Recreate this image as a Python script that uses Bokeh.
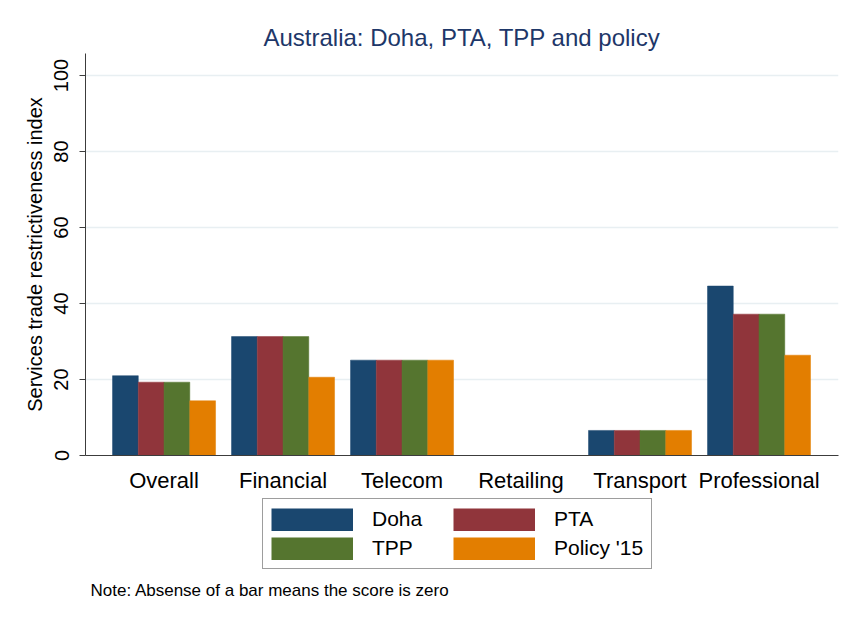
from bokeh.plotting import figure
from bokeh.models import ColumnDataSource, FixedTicker, Range1d, Legend, LegendItem, Label
from bokeh.layouts import column
from bokeh.transform import dodge
from bokeh.embed import file_html
from bokeh.resources import INLINE

categories = ["Overall", "Financial", "Telecom", "Retailing", "Transport", "Professional"]
doha = [21.0, 31.3, 25.1, 0.0, 6.6, 44.6]
pta = [19.3, 31.3, 25.1, 0.0, 6.6, 37.2]
tpp = [19.3, 31.3, 25.1, 0.0, 6.6, 37.2]
policy15 = [14.4, 20.6, 25.1, 0.0, 6.6, 26.4]
series_names = ["Doha", "PTA", "TPP", "Policy '15"]
colors = ["#1a476f", "#90353b", "#55752f", "#e37e00"]
y_ticks = [0, 20, 40, 60, 80, 100]
note_text = "Note: Absense of a bar means the score is zero"

FONT = "Liberation Sans"
W, H = 843, 607
H1 = 495
H2 = H - H1
LEFT = 85
AX = "#3c3c3c"

src = ColumnDataSource(dict(
    x=list(range(len(categories))),
    doha=doha, pta=pta, tpp=tpp, policy15=policy15,
))

p = figure(width=W, height=H1, output_backend="svg", toolbar_location=None,
           x_range=Range1d(-0.66, 5.668), y_range=Range1d(0, 105.8),
           min_border_left=LEFT, min_border_right=5, min_border_top=53,
           min_border_bottom=H1 - 457, background_fill_color="white",
           border_fill_color="white")
p.outline_line_color = None

bw = 0.2164
fields = ["doha", "pta", "tpp", "policy15"]
offsets = [-1.5, -0.5, 0.5, 1.5]
for f, off, c in zip(fields, offsets, colors):
    p.vbar(x=dodge("x", off * bw), top=f, width=bw, bottom=0, source=src,
           fill_color=c, line_color=c, line_width=0.5)

# title
p.title.text = "Australia: Doha, PTA, TPP and policy"
p.title.align = "center"
p.title.text_font = FONT
p.title.text_font_size = "24px"
p.title.text_font_style = "normal"
p.title.text_color = "#1e3769"
p.title.standoff = 6

# axes
p.xaxis.ticker = FixedTicker(ticks=list(range(len(categories))))
p.xaxis.major_label_overrides = {i: c for i, c in enumerate(categories)}
p.xaxis.major_label_text_font = FONT
p.xaxis.major_label_text_font_size = "22px"
p.xaxis.major_label_text_color = "black"
p.xaxis.major_tick_line_color = None
p.xaxis.minor_tick_line_color = None
p.xaxis.major_label_standoff = 6
p.xaxis.axis_line_color = AX

p.yaxis.ticker = FixedTicker(ticks=y_ticks)
p.yaxis.major_label_orientation = "vertical"
p.yaxis.major_label_text_font = FONT
p.yaxis.major_label_text_font_size = "20px"
p.yaxis.major_label_text_color = "black"
p.yaxis.major_tick_out = 6
p.yaxis.major_tick_in = 0
p.yaxis.minor_tick_line_color = None
p.yaxis.major_tick_line_color = AX
p.yaxis.axis_line_color = AX
p.yaxis.major_label_standoff = 11
p.yaxis.axis_label = "Services trade restrictiveness index"
p.yaxis.axis_label_text_font = FONT
p.yaxis.axis_label_text_font_size = "20px"
p.yaxis.axis_label_text_font_style = "normal"
p.yaxis.axis_label_text_color = "black"
p.yaxis.axis_label_standoff = 6

p.xgrid.grid_line_color = None
p.ygrid.ticker = FixedTicker(ticks=y_ticks)
p.ygrid.grid_line_color = "#e8eff2"
p.ygrid.grid_line_width = 1.5

# lower panel: legend + note (its frame is aligned with the plot frame above)
p2 = figure(width=W, height=H2, output_backend="svg", toolbar_location=None,
            x_range=Range1d(0, 1), y_range=Range1d(0, 1),
            x_axis_type=None, y_axis_type=None, min_border=0,
            background_fill_color="white", border_fill_color="white")
p2.outline_line_color = None
p2.grid.grid_line_color = None

nan = float("nan")
swatches = {}
for n, c in zip(series_names, colors):
    s = ColumnDataSource(dict(x=[nan], y=[nan]))
    swatches[n] = p2.line(x="x", y="y", source=s, line_color=c,
                          line_width=23, line_cap="butt")

# column-major fill -> order so rows read Doha, PTA / TPP, Policy '15
order = ["Doha", "TPP", "PTA", "Policy '15"]
items = [LegendItem(label=n, renderers=[swatches[n]]) for n in order]
legend = Legend(items=items, ncols=2, location=(262 - LEFT, H - 569),
                glyph_width=82, glyph_height=23, label_standoff=19, spacing=5,
                padding=8, margin=0,
                label_text_font=FONT, label_text_font_size="21px",
                label_text_color="black",
                label_height=23, label_width=76,
                border_line_color=AX, border_line_width=1,
                background_fill_color="white", background_fill_alpha=1)
p2.add_layout(legend, "center")

note = Label(x=90 - LEFT, y=H - 590, x_units="screen", y_units="screen",
             text=note_text, text_font=FONT, text_font_size="17px",
             text_color="black", text_baseline="middle")
p2.add_layout(note)

layout = column(p, p2, spacing=0)
open("out.html", "w").write(file_html(layout, INLINE))
